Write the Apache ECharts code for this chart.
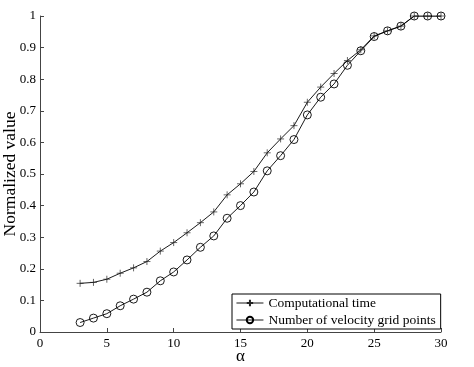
<!DOCTYPE html>
<html>
<head>
<meta charset="utf-8">
<script src="https://cdn.jsdelivr.net/npm/echarts@6/dist/echarts.min.js"></script>
<style>
    html, body { margin: 0; padding: 0; background: #fff; }
    #chart { width: 474px; height: 367px; }
</style>
</head>
<body>
<div id="chart"></div>
<script>
const alpha = [3, 4, 5, 6, 7, 8, 9, 10, 11, 12, 13, 14, 15, 16, 17, 18, 19, 20, 21, 22, 23, 24, 25, 26, 27, 28, 29, 30];
const compTime = [0.154, 0.157, 0.167, 0.186, 0.203, 0.223, 0.256, 0.283, 0.314, 0.346, 0.380, 0.434, 0.469,
    0.508, 0.567, 0.611, 0.653, 0.727, 0.775, 0.818, 0.859, 0.893, 0.937, 0.953, 0.968, 1.0, 1.0, 1.0];
const gridPoints = [0.030, 0.044, 0.058, 0.083, 0.104, 0.126, 0.162, 0.190, 0.228, 0.268, 0.304, 0.360, 0.400,
    0.443, 0.510, 0.558, 0.609, 0.687, 0.743, 0.785, 0.844, 0.890, 0.935, 0.953, 0.968, 1.0, 1.0, 1.0];
const seriesNames = ["Computational time", "Number of velocity grid points"];

const font = "'Liberation Serif', 'DejaVu Serif', serif";
const plus = "path://M0,5 L10,5 M5,0 L5,10";

function pairs(ys) {
    return alpha.map((x, i) => [x, ys[i]]);
}

const myChart = echarts.init(document.getElementById("chart"));
const axisCommon = {
    axisLine: { show: true, lineStyle: { color: "#444", width: 1 } },
    axisTick: { show: true, inside: true, length: 4, lineStyle: { color: "#444" } },
    splitLine: { show: false },
    axisLabel: { color: "#000", fontFamily: font, fontSize: 13 },
    nameMoveOverlap: false,
};

const option = {
    animation: false,
    grid: { left: 40, right: 33, top: 16, bottom: 35, containLabel: false, outerBoundsMode: "none" },
    xAxis: Object.assign({}, axisCommon, {
        type: "value",
        min: 0,
        max: 30,
        interval: 5,
        name: "α",
        nameLocation: "middle",
        nameGap: 16,
        nameTextStyle: { color: "#000", fontFamily: font, fontSize: 17 },
        axisLabel: Object.assign({}, axisCommon.axisLabel, { margin: 5 }),
    }),
    yAxis: Object.assign({}, axisCommon, {
        type: "value",
        min: 0,
        max: 1,
        interval: 0.1,
        name: "Normalized value",
        nameLocation: "middle",
        nameGap: 21,
        nameTextStyle: { color: "#000", fontFamily: font, fontSize: 17.5 },
        axisLabel: Object.assign({}, axisCommon.axisLabel, {
            margin: 4,
            formatter: (v) => String(Math.round(v * 10) / 10),
        }),
    }),
    legend: {
        orient: "vertical",
        left: 232,
        top: 294,
        padding: [2, 5, 2, 4],
        itemWidth: 27,
        itemHeight: 8,
        itemGap: 3,
        itemTextGap: 3,
        borderColor: "#000",
        borderWidth: 1,
        backgroundColor: "#fff",
        lineStyle: { width: 0.9 },
        textStyle: { color: "#000", fontFamily: font, fontSize: 13.5, lineHeight: 14 },
        data: seriesNames,
    },
    series: [
        {
            name: seriesNames[0],
            type: "line",
            data: pairs(compTime),
            symbol: plus,
            symbolSize: 7,
            showAllSymbol: true,
            lineStyle: { color: "#000", width: 0.9 },
            itemStyle: { color: "none", borderColor: "#222", borderWidth: 0.7 },
        },
        {
            name: seriesNames[1],
            type: "line",
            data: pairs(gridPoints),
            symbol: "circle",
            symbolSize: 8,
            showAllSymbol: true,
            lineStyle: { color: "#000", width: 0.9 },
            itemStyle: { color: "none", borderColor: "#000", borderWidth: 0.9 },
        },
    ],
};
option && myChart.setOption(option);
</script>
</body>
</html>
